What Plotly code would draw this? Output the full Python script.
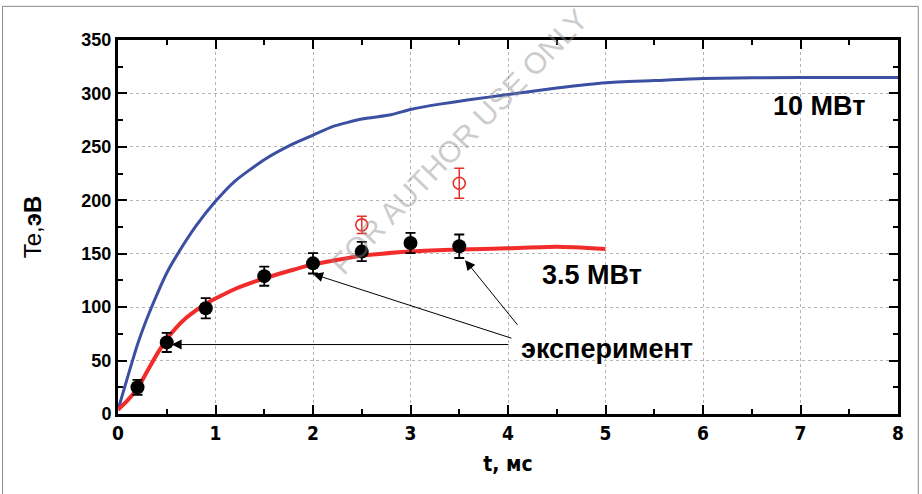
import plotly.graph_objects as go

# 10 MW simulation curve
t_10mw = [0, 0.1, 0.2, 0.3, 0.4, 0.5, 0.6, 0.8, 1.0, 1.2, 1.5, 1.8, 2.0, 2.2, 2.5,
          2.8, 3.0, 3.3, 3.6, 4.0, 4.5, 5.0, 5.5, 6.0, 7.0, 8.0]
te_10mw = [4, 35, 65, 90, 112, 132, 148, 176, 199, 218, 238, 253, 261, 269, 276,
           280, 285, 290, 294, 299, 305, 310, 312, 314, 315, 315]

# 3.5 MW simulation curve
t_35mw = [0, 0.1, 0.2, 0.3, 0.4, 0.5, 0.6, 0.7, 0.8, 0.9, 1.0, 1.2, 1.5, 1.8, 2.0, 2.5,
          3.0, 3.5, 4.0, 4.5, 5.0]
te_35mw = [4, 13, 24, 40, 56, 70, 81, 90, 97, 103, 108, 117, 127, 135, 140, 148,
           152, 154, 155, 156.5, 154.5]

# experiment (filled)
t_exp = [0.2, 0.5, 0.9, 1.5, 2.0, 2.5, 3.0, 3.5]
te_exp = [25, 67, 99, 129, 141, 152, 160, 157]
err_exp = [7, 9, 9.5, 9, 9.5, 9, 9.5, 11]

# experiment (open, red)
t_open = [2.5, 3.5]
te_open = [177, 216]
err_open = [8, 14]

x_ticks = [0, 1, 2, 3, 4, 5, 6, 7, 8]
y_ticks = [0, 50, 100, 150, 200, 250, 300, 350]

fig = go.Figure()
fig.add_trace(go.Scatter(x=t_10mw, y=te_10mw, mode="lines",
                         line=dict(color="#3b4fa3", width=3, shape="spline", smoothing=0.5),
                         showlegend=False))
fig.add_trace(go.Scatter(x=t_35mw, y=te_35mw, mode="lines",
                         line=dict(color="#f22b2b", width=4, shape="spline", smoothing=0.6),
                         showlegend=False))
fig.add_trace(go.Scatter(x=t_open, y=te_open, mode="markers",
                         marker=dict(symbol="circle-open", size=12, color="#e8302a",
                                     line=dict(width=1.6)),
                         error_y=dict(type="data", array=err_open, color="#e8302a",
                                      thickness=1.5, width=5),
                         showlegend=False))
fig.add_trace(go.Scatter(x=t_exp, y=te_exp, mode="markers",
                         marker=dict(symbol="circle", size=14, color="black"),
                         error_y=dict(type="data", array=err_exp, color="black",
                                      thickness=1.8, width=5),
                         showlegend=False))

bold_font = "Liberation Sans, Arial, sans-serif"
narrow_font = "Liberation Sans Narrow, DejaVu Sans Condensed, Liberation Sans, sans-serif"

# annotations: labels and arrows
fig.add_annotation(x=7.19, y=288, text="10 МВт", showarrow=False,
                   font=dict(family=bold_font, size=27, color="black", weight="bold"))
fig.add_annotation(x=4.86, y=130, text="3.5 МВт", showarrow=False,
                   font=dict(family=bold_font, size=27, color="black", weight="bold"))
fig.add_annotation(x=5.02, y=61, text="эксперимент", showarrow=False,
                   font=dict(family=bold_font, size=27, color="black", weight="bold"))

arrows = [((3.56, 144), (4.11, 82)),
          ((2.0, 131), (4.05, 70.5)),
          ((0.55, 65), (4.02, 65))]
for (hx, hy), (tx, ty) in arrows:
    fig.add_annotation(x=hx, y=hy, ax=tx, ay=ty, xref="x", yref="y", axref="x", ayref="y",
                       text="", showarrow=True, arrowhead=2, arrowsize=2, arrowwidth=1,
                       arrowcolor="black")

fig.add_annotation(x=3.5, y=255, text="FOR AUTHOR USE ONLY", showarrow=False,
                   textangle=-46,
                   font=dict(family="Liberation Sans, Arial, sans-serif", size=30,
                             color="rgba(140,140,140,0.45)"))

# outer frame
fig.add_shape(type="rect", xref="paper", yref="paper",
              x0=-0.148, x1=1.026, y0=-0.25, y1=1.09,
              line=dict(color="#8a8a8a", width=1), layer="below")

axis_common = dict(showline=True, linecolor="black", linewidth=3, mirror="allticks",
                   ticks="inside", ticklen=9, tickwidth=2, tickcolor="black",
                   showgrid=True, gridcolor="#b5b5b5", griddash="dot", gridwidth=1,
                   zeroline=False, automargin=False)

fig.update_xaxes(range=[0, 8], tickvals=x_ticks, ticktext=[str(v) for v in x_ticks],
                 minor=dict(dtick=0.5, ticks="inside", ticklen=5, tickwidth=2,
                            tickcolor="black", showgrid=False),
                 tickfont=dict(family=narrow_font, size=19, color="black", weight="bold"),
                 title=dict(text="t, мс", standoff=14,
                            font=dict(family=narrow_font, size=21, color="black", weight="bold")),
                 **axis_common)
fig.update_yaxes(range=[0, 350], tickvals=y_ticks, ticktext=[str(v) for v in y_ticks],
                 minor=dict(dtick=25, ticks="inside", ticklen=5, tickwidth=2,
                            tickcolor="black", showgrid=False),
                 tickfont=dict(family=bold_font, size=18, color="black", weight="bold"),
                 title=dict(text="Te,<b>эВ</b>", standoff=33,
                            font=dict(family=bold_font, size=24, color="black")),
                 **axis_common)

fig.update_layout(width=922, height=494,
                  margin=dict(l=118, r=24, t=40, b=80),
                  plot_bgcolor="white", paper_bgcolor="white",
                  showlegend=False)

fig.write_html("out.html", config={"displayModeBar": False},
               post_script="document.body.style.margin='0';document.body.style.overflow='hidden';")
